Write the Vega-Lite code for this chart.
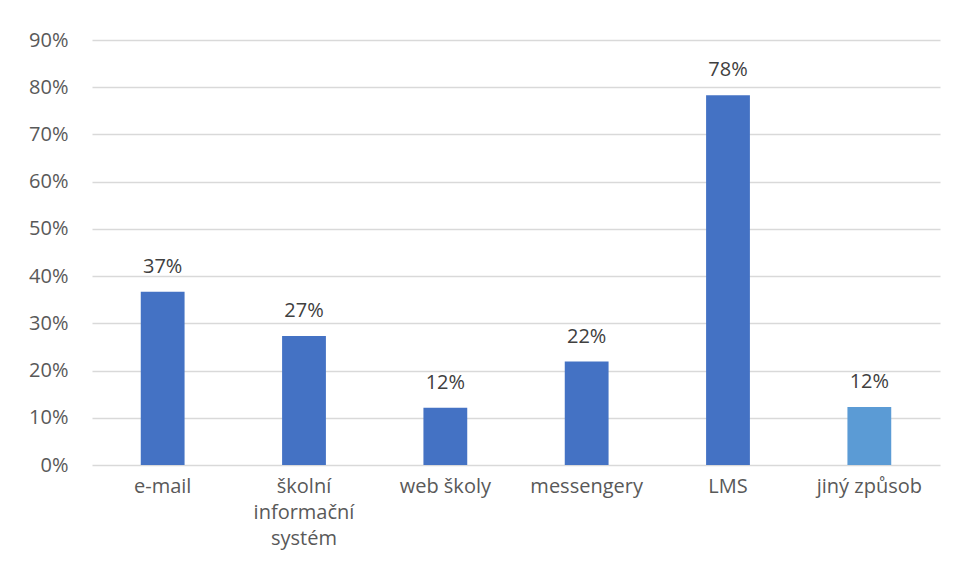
{
  "$schema": "https://vega.github.io/schema/vega-lite/v6.json",
  "width": 848,
  "height": 425,
  "autosize": {"type": "none"},
  "padding": {"left": 92, "top": 40, "right": 17, "bottom": 114},
  "background": "white",
  "config": {"view": {"stroke": null}, "font": "Open Sans"},
  "data": {"values": [
    {"cat": "e-mail", "val": 0.367, "grp": "a"},
    {"cat": "školní informační systém", "val": 0.273, "grp": "a"},
    {"cat": "web školy", "val": 0.121, "grp": "a"},
    {"cat": "messengery", "val": 0.219, "grp": "a"},
    {"cat": "LMS", "val": 0.783, "grp": "a"},
    {"cat": "jiný způsob", "val": 0.123, "grp": "b"}
  ]},
  "encoding": {
    "x": {"field": "cat", "type": "nominal", "sort": null,
      "scale": {"paddingInner": 0.69, "paddingOuter": 0.345},
      "axis": {"title": null, "labelAngle": 0, "labelFontSize": 20, "labelColor": "#595959",
        "labelPadding": 11, "ticks": false, "domain": false, "labelLineHeight": 26,
        "labelExpr": "datum.value == 'školní informační systém' ? ['školní','informační','systém'] : datum.value"}},
    "y": {"field": "val", "type": "quantitative",
      "scale": {"domain": [0, 0.9], "nice": false},
      "axis": {"title": null, "format": ".0%", "values": [0,0.1,0.2,0.3,0.4,0.5,0.6,0.7,0.8,0.9],
        "labelOverlap": false, "labelFlush": false,
        "labelFontSize": 20, "labelColor": "#595959", "labelPadding": 24, "ticks": false, "domain": false,
        "gridColor": "#D9D9D9", "gridWidth": 1.5}}
  },
  "layer": [
    {"mark": {"type": "bar"},
     "encoding": {"color": {"field": "grp", "type": "nominal", "legend": null,
       "scale": {"domain": ["a", "b"], "range": ["#4472C4", "#5B9BD5"]}}}},
    {"mark": {"type": "text", "dy": -15, "fontSize": 20, "color": "#404040", "baseline": "bottom"},
     "encoding": {"text": {"field": "val", "type": "quantitative", "format": ".0%"}}}
  ]
}
